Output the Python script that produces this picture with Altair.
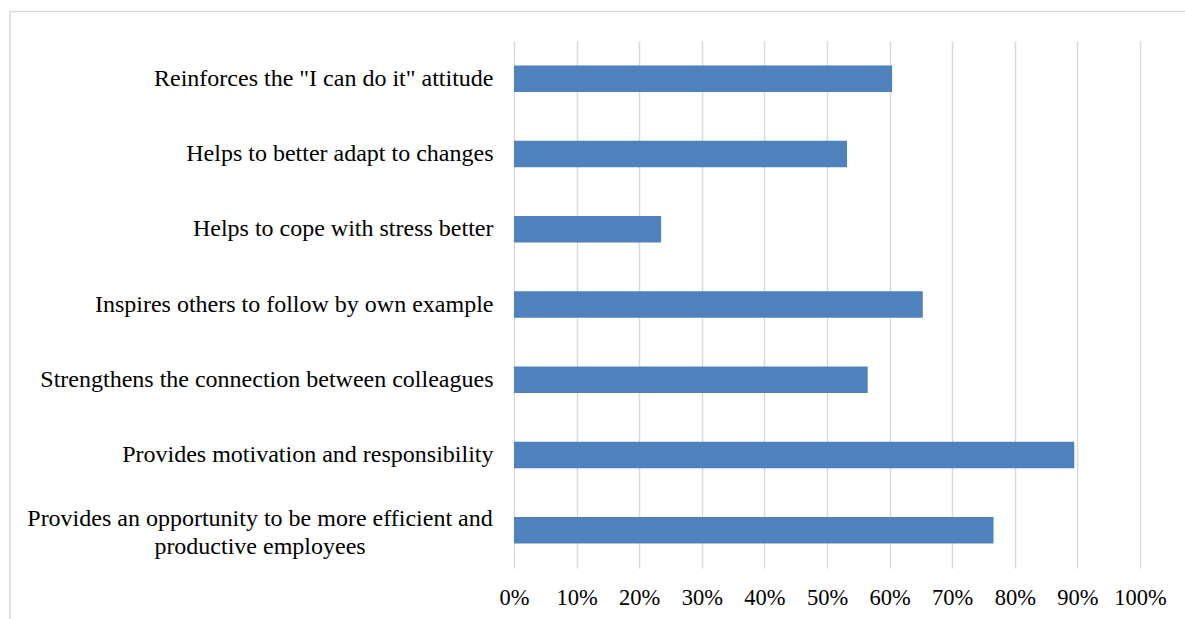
import altair as alt
import pandas as pd

categories = [
    'Reinforces the "I can do it" attitude',
    "Helps to better adapt to changes",
    "Helps to cope with stress better",
    "Inspires others to follow by own example",
    "Strengthens the connection between colleagues",
    "Provides motivation and responsibility",
    "Provides an opportunity to be more efficient and productive employees",
]
values = [0.604, 0.532, 0.235, 0.653, 0.565, 0.895, 0.766]
wrapped_label = "Provides an opportunity to be more efficient and\nproductive employees"
x_ticks = [i / 10 for i in range(11)]

df = pd.DataFrame({"category": categories, "value": values})
df_wrap = pd.DataFrame({"category": [categories[-1]], "text": [wrapped_label]})
df_frame = pd.DataFrame({"k": [0]})

FONT = "Liberation Serif, Times New Roman, serif"
W, H = 626, 527

y_enc = alt.Y(
    "category:N",
    sort=categories,
    scale=alt.Scale(paddingInner=0.648, paddingOuter=0.324),
    axis=alt.Axis(
        title=None,
        domain=False,
        ticks=False,
        labelFont=FONT,
        labelFontSize=24,
        labelColor="#000000",
        labelPadding=21,
        labelLimit=600,
        labelExpr=f"datum.value == '{categories[-1]}' ? '' : datum.value",
    ),
)

bars = alt.Chart(df).mark_bar(color="#4F81BD").encode(
    x=alt.X(
        "value:Q",
        scale=alt.Scale(domain=[0, 1]),
        axis=alt.Axis(
            title=None,
            format="%",
            values=x_ticks,
            domain=False,
            ticks=False,
            grid=True,
            gridColor="#d9d9d9",
            gridWidth=1.5,
            labelFont=FONT,
            labelFontSize=22.5,
            labelColor="#000000",
            labelPadding=18,
            labelOverlap=False,
            labelFlush=False,
        ),
    ),
    y=y_enc,
)

wrap_text = alt.Chart(df_wrap).mark_text(
    font=FONT, fontSize=24, color="#000000", align="center",
    baseline="middle", lineBreak="\n", lineHeight=28, dy=-11,
).encode(
    x=alt.value(-254),
    y=alt.Y("category:N", sort=categories),
    text="text:N",
)

frame = alt.Chart(df_frame).mark_rect(
    filled=False, stroke="#d9d9d9", strokeWidth=1.5
).encode(
    x=alt.value(-504), x2=alt.value(W + 100),
    y=alt.value(-29.5), y2=alt.value(H + 100),
)

chart = alt.layer(frame, bars, wrap_text).properties(
    width=W, height=H,
    autosize=alt.AutoSizeParams(type="none"),
    padding={"left": 514, "top": 41, "right": 45, "bottom": 51},
    background="white",
).configure_view(stroke=None)

chart.save("out.html", embed_options={"renderer": "svg", "actions": False})
